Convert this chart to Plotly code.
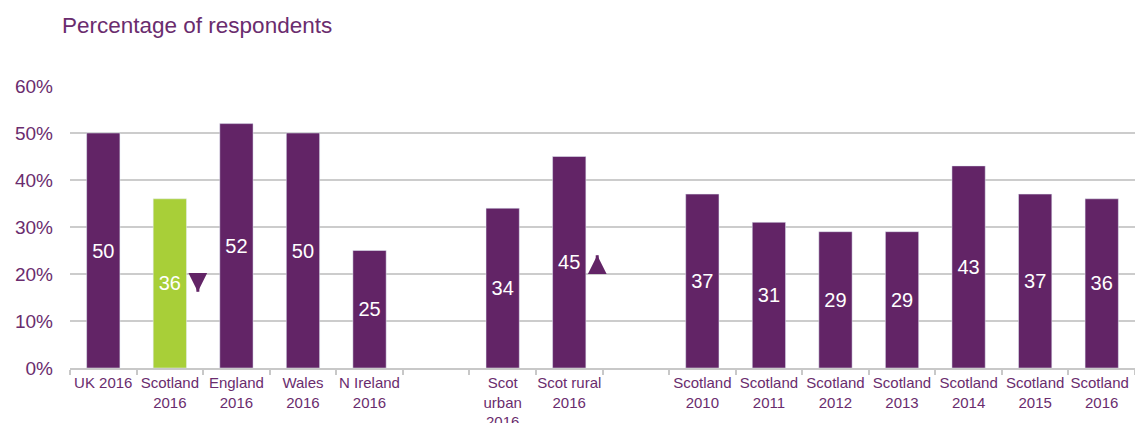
import plotly.graph_objects as go

categories = ["UK 2016", "Scotland<br>2016", "England<br>2016", "Wales<br>2016", "N Ireland<br>2016", " ",
              "Scot<br>urban<br>2016", "Scot rural<br>2016", "  ",
              "Scotland<br>2010", "Scotland<br>2011", "Scotland<br>2012", "Scotland<br>2013",
              "Scotland<br>2014", "Scotland<br>2015", "Scotland <br>2016"]
values = [50, 36, 52, 50, 25, None, 34, 45, None, 37, 31, 29, 29, 43, 37, 36]

PURPLE = "#622466"
GREEN = "#a8cf38"
TEXT = "#6a2c6e"
colors = [GREEN if i == 1 else PURPLE for i in range(len(categories))]
labels = ["" if v is None else str(v) for v in values]

fig = go.Figure(go.Bar(
    x=categories, y=values, marker_color=colors, text=labels,
    textposition="inside", insidetextanchor="middle", textangle=0,
    textfont=dict(color="white", size=20, family="Liberation Sans, Arial"),
    cliponaxis=False,
))

# significance arrows: shaft + head
for idx, tip, direction in [(1, 16.2, -1), (7, 24.0, 1)]:
    fig.add_annotation(x=idx, y=tip, ax=0, ay=direction * 19, xref="x", yref="y", xshift=28,
                       showarrow=True, arrowhead=0, arrowwidth=3, standoff=0,
                       arrowcolor=PURPLE, text="", font=dict(size=1), borderpad=0)
    fig.add_annotation(x=idx, y=tip, ax=0, ay=direction * 10, xref="x", yref="y", xshift=28,
                       showarrow=True, arrowhead=2, arrowsize=1.25, arrowwidth=3,
                       arrowcolor=PURPLE, text="", font=dict(size=1), borderpad=0)

fig.update_layout(
    width=1135, height=423,
    margin=dict(l=70, r=0, t=86, b=55, autoexpand=False),
    paper_bgcolor="white", plot_bgcolor="white",
    bargap=0.5, showlegend=False,
    font=dict(family="Liberation Sans, Arial", color=TEXT),
    title=dict(text="Percentage of respondents", xref="container", x=62 / 1135,
               xanchor="left", yref="container", y=1 - 25 / 423, yanchor="middle",
               font=dict(size=22.5, color=TEXT)),
)

fig.update_xaxes(type="category", categoryorder="array", categoryarray=categories,
                 showline=True, linecolor="#c8c8c8", linewidth=2,
                 ticks="outside", tickson="boundaries", ticklen=5, tickcolor="#c8c8c8",
                 tickwidth=2, showgrid=False, tickangle=0, automargin=False,
                 tickfont=dict(size=15, color=TEXT))
fig.update_yaxes(range=[0, 60], dtick=10, ticksuffix="%", showgrid=True,
                 gridcolor="#cccccc", gridwidth=2, zeroline=False, showline=False,
                 automargin=False,
                 tickfont=dict(size=19, color=TEXT), ticklabelstandoff=16)

fig.write_html("out.html")
